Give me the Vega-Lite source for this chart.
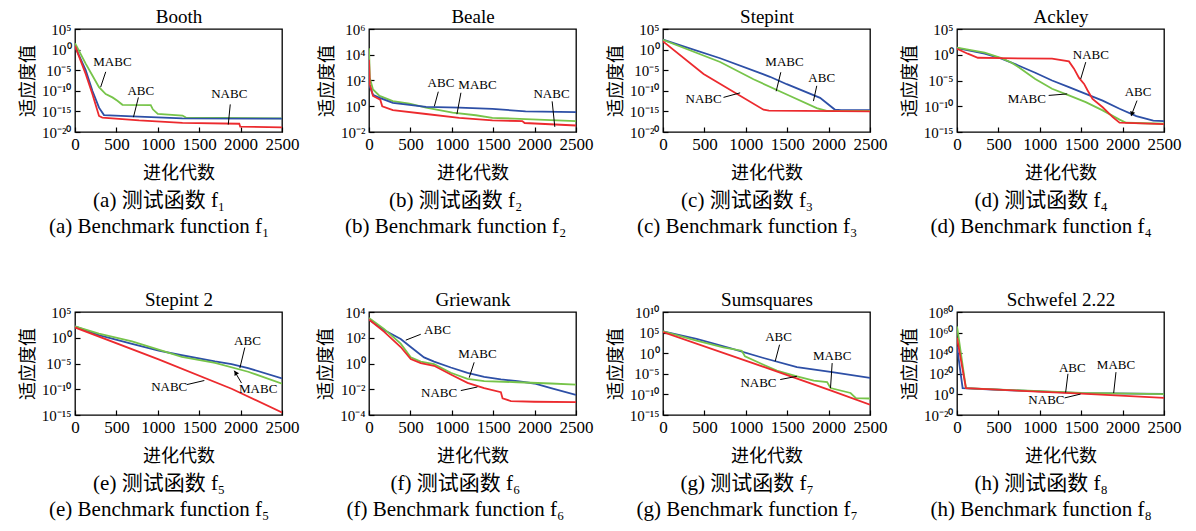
{
"$schema":"https://vega.github.io/schema/vega-lite/v6.json",
"padding":{"left":18,"top":6,"right":5,"bottom":4},
"background":"#ffffff",
"datasets":{
"L":[
{"p":"a","s":"MABC","g":0,"v":35},{"p":"a","s":"MABC","g":129,"v":4e-4},{"p":"a","s":"MABC","g":210,"v":5e-7},{"p":"a","s":"MABC","g":290,"v":7.9e-10},{"p":"a","s":"MABC","g":371,"v":1.6e-11},{"p":"a","s":"MABC","g":452,"v":2.5e-12},{"p":"a","s":"MABC","g":512,"v":4e-13},{"p":"a","s":"MABC","g":573,"v":4e-14},{"p":"a","s":"MABC","g":915,"v":3.2e-14},{"p":"a","s":"MABC","g":940,"v":3.2e-15},{"p":"a","s":"MABC","g":1000,"v":2.5e-16},{"p":"a","s":"MABC","g":1298,"v":1e-16},{"p":"a","s":"MABC","g":1339,"v":3.2e-17},{"p":"a","s":"MABC","g":2500,"v":2e-17},
{"p":"a","s":"ABC","g":0,"v":5.2},{"p":"a","s":"ABC","g":129,"v":1e-5},{"p":"a","s":"ABC","g":210,"v":1e-10},{"p":"a","s":"ABC","g":290,"v":7.9e-15},{"p":"a","s":"ABC","g":350,"v":1.26e-16},{"p":"a","s":"ABC","g":694,"v":6.3e-17},{"p":"a","s":"ABC","g":1298,"v":2e-17},{"p":"a","s":"ABC","g":2500,"v":1.8e-17},
{"p":"a","s":"NABC","g":0,"v":7.9},{"p":"a","s":"NABC","g":129,"v":1.26e-6},{"p":"a","s":"NABC","g":210,"v":1.6e-11},{"p":"a","s":"NABC","g":290,"v":7.9e-17},{"p":"a","s":"NABC","g":330,"v":3.2e-17},{"p":"a","s":"NABC","g":774,"v":6.3e-18},{"p":"a","s":"NABC","g":1298,"v":1.6e-18},{"p":"a","s":"NABC","g":1984,"v":1e-18},{"p":"a","s":"NABC","g":1995,"v":2e-19},{"p":"a","s":"NABC","g":2500,"v":1.4e-19},
{"p":"b","s":"MABC","g":0,"v":32000},{"p":"b","s":"MABC","g":10,"v":160},{"p":"b","s":"MABC","g":48,"v":20},{"p":"b","s":"MABC","g":128,"v":6.3},{"p":"b","s":"MABC","g":288,"v":2.5},{"p":"b","s":"MABC","g":489,"v":1.6},{"p":"b","s":"MABC","g":689,"v":0.79},{"p":"b","s":"MABC","g":1010,"v":0.32},{"p":"b","s":"MABC","g":1290,"v":0.2},{"p":"b","s":"MABC","g":1490,"v":0.126},{"p":"b","s":"MABC","g":1891,"v":0.1},{"p":"b","s":"MABC","g":2500,"v":0.071},
{"p":"b","s":"ABC","g":0,"v":50},{"p":"b","s":"ABC","g":48,"v":7.9},{"p":"b","s":"ABC","g":128,"v":4.5},{"p":"b","s":"ABC","g":288,"v":1.8},{"p":"b","s":"ABC","g":689,"v":0.89},{"p":"b","s":"ABC","g":1090,"v":0.79},{"p":"b","s":"ABC","g":1490,"v":0.63},{"p":"b","s":"ABC","g":1891,"v":0.4},{"p":"b","s":"ABC","g":2500,"v":0.35},
{"p":"b","s":"NABC","g":0,"v":4000},{"p":"b","s":"NABC","g":10,"v":50},{"p":"b","s":"NABC","g":48,"v":6.3},{"p":"b","s":"NABC","g":136,"v":3.2},{"p":"b","s":"NABC","g":160,"v":1},{"p":"b","s":"NABC","g":288,"v":0.5},{"p":"b","s":"NABC","g":689,"v":0.25},{"p":"b","s":"NABC","g":1090,"v":0.126},{"p":"b","s":"NABC","g":1490,"v":0.079},{"p":"b","s":"NABC","g":1851,"v":0.071},{"p":"b","s":"NABC","g":1880,"v":0.05},{"p":"b","s":"NABC","g":2500,"v":0.032},
{"p":"c","s":"ABC","g":0,"v":250},{"p":"c","s":"ABC","g":690,"v":7.9e-3},{"p":"c","s":"ABC","g":1292,"v":2.5e-7},{"p":"c","s":"ABC","g":1495,"v":4e-9},{"p":"c","s":"ABC","g":1897,"v":2e-12},{"p":"c","s":"ABC","g":2078,"v":2.5e-15},{"p":"c","s":"ABC","g":2150,"v":2e-15},{"p":"c","s":"ABC","g":2500,"v":2e-15},
{"p":"c","s":"MABC","g":0,"v":250},{"p":"c","s":"MABC","g":690,"v":1e-3},{"p":"c","s":"MABC","g":1093,"v":6.3e-8},{"p":"c","s":"MABC","g":1495,"v":1.26e-11},{"p":"c","s":"MABC","g":1857,"v":6.3e-15},{"p":"c","s":"MABC","g":1977,"v":1.26e-15},{"p":"c","s":"MABC","g":2500,"v":1.26e-15},
{"p":"c","s":"NABC","g":0,"v":100},{"p":"c","s":"NABC","g":490,"v":1.26e-6},{"p":"c","s":"NABC","g":1214,"v":2.5e-15},{"p":"c","s":"NABC","g":1280,"v":1.6e-15},{"p":"c","s":"NABC","g":2500,"v":1e-15},
{"p":"d","s":"ABC","g":0,"v":20},{"p":"d","s":"ABC","g":334,"v":1.6},{"p":"d","s":"ABC","g":537,"v":0.17},{"p":"d","s":"ABC","g":741,"v":8.3e-3},{"p":"d","s":"ABC","g":945,"v":3.2e-4},{"p":"d","s":"ABC","g":1148,"v":1e-5},{"p":"d","s":"ABC","g":1352,"v":5e-7},{"p":"d","s":"ABC","g":1555,"v":2.5e-8},{"p":"d","s":"ABC","g":1759,"v":1.26e-9},{"p":"d","s":"ABC","g":1963,"v":3.2e-11},{"p":"d","s":"ABC","g":2166,"v":1.26e-12},{"p":"d","s":"ABC","g":2370,"v":1.6e-13},{"p":"d","s":"ABC","g":2500,"v":1.26e-13},
{"p":"d","s":"MABC","g":0,"v":25},{"p":"d","s":"MABC","g":334,"v":2.5},{"p":"d","s":"MABC","g":537,"v":0.22},{"p":"d","s":"MABC","g":660,"v":0.028},{"p":"d","s":"MABC","g":741,"v":4e-3},{"p":"d","s":"MABC","g":945,"v":2e-5},{"p":"d","s":"MABC","g":1148,"v":2.5e-7},{"p":"d","s":"MABC","g":1352,"v":1.26e-8},{"p":"d","s":"MABC","g":1555,"v":6.3e-10},{"p":"d","s":"MABC","g":1759,"v":1.6e-11},{"p":"d","s":"MABC","g":1963,"v":2.5e-13},{"p":"d","s":"MABC","g":2044,"v":6.3e-14},{"p":"d","s":"MABC","g":2500,"v":4e-14},
{"p":"d","s":"NABC","g":0,"v":15},{"p":"d","s":"NABC","g":130,"v":1.6},{"p":"d","s":"NABC","g":252,"v":0.26},{"p":"d","s":"NABC","g":537,"v":0.22},{"p":"d","s":"NABC","g":1148,"v":0.17},{"p":"d","s":"NABC","g":1352,"v":0.05},{"p":"d","s":"NABC","g":1413,"v":2e-3},{"p":"d","s":"NABC","g":1474,"v":3.2e-5},{"p":"d","s":"NABC","g":1535,"v":2.2e-6},{"p":"d","s":"NABC","g":1576,"v":1.26e-7},{"p":"d","s":"NABC","g":1637,"v":2.7e-9},{"p":"d","s":"NABC","g":1759,"v":6.3e-11},{"p":"d","s":"NABC","g":1881,"v":7.9e-13},{"p":"d","s":"NABC","g":1963,"v":6.3e-14},{"p":"d","s":"NABC","g":2500,"v":3.5e-14},
{"p":"e","s":"ABC","g":0,"v":160},{"p":"e","s":"ABC","g":288,"v":3.2},{"p":"e","s":"ABC","g":689,"v":0.063},{"p":"e","s":"ABC","g":1010,"v":3.2e-3},{"p":"e","s":"ABC","g":1290,"v":4e-4},{"p":"e","s":"ABC","g":1691,"v":2.5e-5},{"p":"e","s":"ABC","g":1891,"v":7.9e-6},{"p":"e","s":"ABC","g":2091,"v":1.26e-6},{"p":"e","s":"ABC","g":2500,"v":1.26e-8},
{"p":"e","s":"MABC","g":0,"v":160},{"p":"e","s":"MABC","g":288,"v":6.3},{"p":"e","s":"MABC","g":689,"v":0.2},{"p":"e","s":"MABC","g":1010,"v":5e-3},{"p":"e","s":"MABC","g":1290,"v":2e-4},{"p":"e","s":"MABC","g":1691,"v":1.26e-5},{"p":"e","s":"MABC","g":2091,"v":2.5e-7},{"p":"e","s":"MABC","g":2500,"v":1.26e-9},
{"p":"e","s":"NABC","g":0,"v":100},{"p":"e","s":"NABC","g":1010,"v":6.3e-5},{"p":"e","s":"NABC","g":1891,"v":1.26e-10},{"p":"e","s":"NABC","g":2500,"v":3.2e-15},
{"p":"f","s":"ABC","g":0,"v":2600},{"p":"f","s":"ABC","g":181,"v":400},{"p":"f","s":"ABC","g":383,"v":79},{"p":"f","s":"ABC","g":504,"v":19},{"p":"f","s":"ABC","g":665,"v":3},{"p":"f","s":"ABC","g":786,"v":1.4},{"p":"f","s":"ABC","g":988,"v":0.49},{"p":"f","s":"ABC","g":1190,"v":0.19},{"p":"f","s":"ABC","g":1391,"v":0.093},{"p":"f","s":"ABC","g":1593,"v":0.058},{"p":"f","s":"ABC","g":1794,"v":0.042},{"p":"f","s":"ABC","g":1996,"v":0.028},{"p":"f","s":"ABC","g":2198,"v":0.012},{"p":"f","s":"ABC","g":2500,"v":3.6e-3},
{"p":"f","s":"MABC","g":0,"v":3500},{"p":"f","s":"MABC","g":181,"v":490},{"p":"f","s":"MABC","g":383,"v":35},{"p":"f","s":"MABC","g":504,"v":3},{"p":"f","s":"MABC","g":625,"v":1.4},{"p":"f","s":"MABC","g":786,"v":0.89},{"p":"f","s":"MABC","g":988,"v":0.19},{"p":"f","s":"MABC","g":1190,"v":0.065},{"p":"f","s":"MABC","g":1391,"v":0.042},{"p":"f","s":"MABC","g":1794,"v":0.035},{"p":"f","s":"MABC","g":2198,"v":0.028},{"p":"f","s":"MABC","g":2500,"v":0.023},
{"p":"f","s":"NABC","g":0,"v":2600},{"p":"f","s":"NABC","g":181,"v":300},{"p":"f","s":"NABC","g":383,"v":19},{"p":"f","s":"NABC","g":504,"v":2.2},{"p":"f","s":"NABC","g":625,"v":1.07},{"p":"f","s":"NABC","g":786,"v":0.66},{"p":"f","s":"NABC","g":988,"v":0.14},{"p":"f","s":"NABC","g":1190,"v":0.031},{"p":"f","s":"NABC","g":1391,"v":0.012},{"p":"f","s":"NABC","g":1593,"v":5.9e-3},{"p":"f","s":"NABC","g":1613,"v":1.95e-3},{"p":"f","s":"NABC","g":1714,"v":1.2e-3},{"p":"f","s":"NABC","g":1996,"v":1.07e-3},{"p":"f","s":"NABC","g":2500,"v":1e-3},
{"p":"g","s":"ABC","g":0,"v":200000},{"p":"g","s":"ABC","g":405,"v":3200},{"p":"g","s":"ABC","g":809,"v":18},{"p":"g","s":"ABC","g":1214,"v":0.068},{"p":"g","s":"ABC","g":1618,"v":4e-4},{"p":"g","s":"ABC","g":2023,"v":2.8e-5},{"p":"g","s":"ABC","g":2500,"v":1e-6},
{"p":"g","s":"MABC","g":0,"v":200000},{"p":"g","s":"MABC","g":405,"v":1100},{"p":"g","s":"MABC","g":728,"v":26},{"p":"g","s":"MABC","g":951,"v":4},{"p":"g","s":"MABC","g":990,"v":0.17},{"p":"g","s":"MABC","g":1214,"v":1.6e-3},{"p":"g","s":"MABC","g":1375,"v":5.8e-5},{"p":"g","s":"MABC","g":1618,"v":2.5e-6},{"p":"g","s":"MABC","g":1820,"v":2.1e-7},{"p":"g","s":"MABC","g":1982,"v":1e-7},{"p":"g","s":"MABC","g":2023,"v":3.5e-9},{"p":"g","s":"MABC","g":2265,"v":2.2e-10},{"p":"g","s":"MABC","g":2330,"v":1.26e-11},{"p":"g","s":"MABC","g":2500,"v":1e-11},
{"p":"g","s":"NABC","g":0,"v":140000},{"p":"g","s":"NABC","g":971,"v":0.025},{"p":"g","s":"NABC","g":2023,"v":1e-9},{"p":"g","s":"NABC","g":2500,"v":3.2e-13},
{"p":"h","s":"ABC","g":0,"v":3.2e46},{"p":"h","s":"ABC","g":68,"v":1e6},{"p":"h","s":"ABC","g":500,"v":32000},{"p":"h","s":"ABC","g":1500,"v":18},{"p":"h","s":"ABC","g":2500,"v":4},
{"p":"h","s":"MABC","g":0,"v":1e66},{"p":"h","s":"MABC","g":108,"v":1e6},{"p":"h","s":"MABC","g":1500,"v":32},{"p":"h","s":"MABC","g":2500,"v":2},
{"p":"h","s":"NABC","g":0,"v":1e55},{"p":"h","s":"NABC","g":108,"v":1e6},{"p":"h","s":"NABC","g":1500,"v":6.3},{"p":"h","s":"NABC","g":2500,"v":4e-4}
],
"T":[
{"p":"a","t":"MABC","g":452,"v":1e-3},{"p":"a","t":"ABC","g":794,"v":7.9e-11},{"p":"a","t":"NABC","g":1863,"v":1.6e-11},
{"p":"b","t":"ABC","g":869,"v":69},{"p":"b","t":"MABC","g":1310,"v":46},{"p":"b","t":"NABC","g":2204,"v":9.3},
{"p":"c","t":"MABC","g":1467,"v":1.26e-3},{"p":"c","t":"ABC","g":1917,"v":1.26e-7},{"p":"c","t":"NABC","g":490,"v":7.9e-13},
{"p":"d","t":"NABC","g":1616,"v":1},{"p":"d","t":"ABC","g":2186,"v":5e-8},{"p":"d","t":"MABC","g":843,"v":2.5e-9},
{"p":"e","t":"ABC","g":2083,"v":0.19},{"p":"e","t":"MABC","g":2212,"v":1e-10},{"p":"e","t":"NABC","g":1138,"v":3.2e-10},
{"p":"f","t":"ABC","g":827,"v":410},{"p":"f","t":"MABC","g":1310,"v":5.6},{"p":"f","t":"NABC","g":847,"v":5.5e-3},
{"p":"g","t":"ABC","g":1396,"v":7100},{"p":"g","t":"MABC","g":2043,"v":0.17},{"p":"g","t":"NABC","g":1153,"v":5.9e-8},
{"p":"h","t":"ABC","g":1392,"v":4e25},{"p":"h","t":"MABC","g":1920,"v":5.6e28},{"p":"h","t":"NABC","g":1080,"v":2.5e-6}
],
"R":[
{"p":"a","g":371,"v":4e-6,"g2":310,"v2":7.9e-10},{"p":"a","g":766,"v":2.5e-12,"g2":706,"v2":4e-17},{"p":"a","g":1875,"v":5e-14,"g2":1851,"v2":6.3e-19},
{"p":"b","g":837,"v":13.5,"g2":789,"v2":0.98},{"p":"b","g":1110,"v":11.2,"g2":1062,"v2":0.24},{"p":"b","g":2212,"v":2.4,"g2":2244,"v2":0.025},
{"p":"c","g":1423,"v":3.2e-6,"g2":1367,"v2":7.9e-11},{"p":"c","g":1857,"v":1.6e-9,"g2":1817,"v2":3.2e-13},{"p":"c","g":731,"v":2.5e-12,"g2":932,"v2":3.2e-11},
{"p":"d","g":1555,"v":0.037,"g2":1494,"v2":2e-5},{"p":"d","g":2174,"v":1.26e-9,"g2":2105,"v2":1.6e-12},{"p":"d","g":1107,"v":1.26e-8,"g2":1331,"v2":2.5e-8},
{"p":"e","g":2051,"v":0.0126,"g2":1991,"v2":1.26e-6},{"p":"e","g":2011,"v":1.6e-9,"g2":1923,"v2":4e-7},{"p":"e","g":1350,"v":7.9e-10,"g2":1562,"v2":5e-9},
{"p":"f","g":625,"v":186,"g2":444,"v2":65},{"p":"f","g":1270,"v":1.23,"g2":1210,"v2":0.079},{"p":"f","g":1109,"v":7.9e-3,"g2":1310,"v2":0.015},
{"p":"g","g":1408,"v":117,"g2":1355,"v2":0.011},{"p":"g","g":2043,"v":4e-3,"g2":2023,"v2":3.5e-9},{"p":"g","g":1416,"v":4e-7,"g2":1618,"v2":2.5e-6},
{"p":"h","g":1340,"v":1e20,"g2":1312,"v2":79},{"p":"h","g":1920,"v":4e21,"g2":1892,"v2":18},{"p":"h","g":1300,"v":4e-4,"g2":1492,"v2":2}
],
"A":[
{"p":"d","g":2112,"v":3e-12},
{"p":"e","g":1940,"v":1.6e-7}
]
},
"bounds":"flush",
"columns":4,
"spacing":{"column":87,"row":180},
"concat":[
{"width":207,"height":103,"title":{"text":["(a) 测试函数 f₁","(a) Benchmark function f₁"]},
"layer":[
{"data":{"name":"L"},"transform":[{"filter":"datum.p==='a'"}],"mark":{"type":"line","strokeWidth":1.8,"clip":true},
"encoding":{"x":{"field":"g","type":"quantitative","scale":{"domain":[0,2500],"nice":false,"zero":false},"axis":{"orient":"bottom","values":[0,500,1000,1500,2000,2500],"format":"d","title":"进化代数"}},
"y":{"field":"v","type":"quantitative","scale":{"type":"log","domain":[1e-20,1e5],"nice":false},"axis":{"orient":"left","values":[1e5,1,1e-5,1e-10,1e-15,1e-20],"title":"适应度值","labelExpr":"'10' + replace(replace(replace(replace(replace(replace(replace(replace(''+round(log(datum.value)/LN10),'-','⁻'),'0','⁰'),'1','¹'),'2','²'),'4','⁴'),'5','⁵'),'6','⁶'),'8','⁸')"}},
"color":{"field":"s","type":"nominal","scale":{"domain":["ABC","MABC","NABC"],"range":["#2d4fa6","#77c44a","#ec2a2e"]},"legend":null}}},
{"data":{"name":"R"},"transform":[{"filter":"datum.p==='a'"}],"mark":{"type":"rule","color":"#000","strokeWidth":1},
"encoding":{"x":{"field":"g","type":"quantitative","axis":{"orient":"top","title":"Booth","labels":false,"ticks":false,"domain":false,"offset":0,"titleFont":"Liberation Serif","titleFontSize":19,"titlePadding":3}},"x2":{"field":"g2"},"y":{"field":"v","type":"quantitative"},"y2":{"field":"v2"}}},
{"data":{"name":"T"},"transform":[{"filter":"datum.p==='a'"}],"mark":{"type":"text","fontSize":13,"color":"#000","font":"Liberation Serif"},
"encoding":{"x":{"field":"g","type":"quantitative","axis":null},"y":{"field":"v","type":"quantitative"},"text":{"field":"t"}}}
]},
{"width":207,"height":103,"title":{"text":["(b) 测试函数 f₂","(b) Benchmark function f₂"]},
"layer":[
{"data":{"name":"L"},"transform":[{"filter":"datum.p==='b'"}],"mark":{"type":"line","strokeWidth":1.8,"clip":true},
"encoding":{"x":{"field":"g","type":"quantitative","scale":{"domain":[0,2500],"nice":false,"zero":false},"axis":{"orient":"bottom","values":[0,500,1000,1500,2000,2500],"format":"d","title":"进化代数"}},
"y":{"field":"v","type":"quantitative","scale":{"type":"log","domain":[1e-2,1e6],"nice":false},"axis":{"orient":"left","values":[1e6,1e4,100,1,0.01],"title":"适应度值","labelExpr":"'10' + replace(replace(replace(replace(replace(replace(replace(replace(''+round(log(datum.value)/LN10),'-','⁻'),'0','⁰'),'1','¹'),'2','²'),'4','⁴'),'5','⁵'),'6','⁶'),'8','⁸')"}},
"color":{"field":"s","type":"nominal","scale":{"domain":["ABC","MABC","NABC"],"range":["#2d4fa6","#77c44a","#ec2a2e"]},"legend":null}}},
{"data":{"name":"R"},"transform":[{"filter":"datum.p==='b'"}],"mark":{"type":"rule","color":"#000","strokeWidth":1},
"encoding":{"x":{"field":"g","type":"quantitative","axis":{"orient":"top","title":"Beale","labels":false,"ticks":false,"domain":false,"offset":0,"titleFont":"Liberation Serif","titleFontSize":19,"titlePadding":3}},"x2":{"field":"g2"},"y":{"field":"v","type":"quantitative"},"y2":{"field":"v2"}}},
{"data":{"name":"T"},"transform":[{"filter":"datum.p==='b'"}],"mark":{"type":"text","fontSize":13,"color":"#000","font":"Liberation Serif"},
"encoding":{"x":{"field":"g","type":"quantitative","axis":null},"y":{"field":"v","type":"quantitative"},"text":{"field":"t"}}}
]},
{"width":207,"height":103,"title":{"text":["(c) 测试函数 f₃","(c) Benchmark function f₃"]},
"layer":[
{"data":{"name":"L"},"transform":[{"filter":"datum.p==='c'"}],"mark":{"type":"line","strokeWidth":1.8,"clip":true},
"encoding":{"x":{"field":"g","type":"quantitative","scale":{"domain":[0,2500],"nice":false,"zero":false},"axis":{"orient":"bottom","values":[0,500,1000,1500,2000,2500],"format":"d","title":"进化代数"}},
"y":{"field":"v","type":"quantitative","scale":{"type":"log","domain":[1e-20,1e5],"nice":false},"axis":{"orient":"left","values":[1e5,1,1e-5,1e-10,1e-15,1e-20],"title":"适应度值","labelExpr":"'10' + replace(replace(replace(replace(replace(replace(replace(replace(''+round(log(datum.value)/LN10),'-','⁻'),'0','⁰'),'1','¹'),'2','²'),'4','⁴'),'5','⁵'),'6','⁶'),'8','⁸')"}},
"color":{"field":"s","type":"nominal","scale":{"domain":["ABC","MABC","NABC"],"range":["#2d4fa6","#77c44a","#ec2a2e"]},"legend":null}}},
{"data":{"name":"R"},"transform":[{"filter":"datum.p==='c'"}],"mark":{"type":"rule","color":"#000","strokeWidth":1},
"encoding":{"x":{"field":"g","type":"quantitative","axis":{"orient":"top","title":"Stepint","labels":false,"ticks":false,"domain":false,"offset":0,"titleFont":"Liberation Serif","titleFontSize":19,"titlePadding":3}},"x2":{"field":"g2"},"y":{"field":"v","type":"quantitative"},"y2":{"field":"v2"}}},
{"data":{"name":"T"},"transform":[{"filter":"datum.p==='c'"}],"mark":{"type":"text","fontSize":13,"color":"#000","font":"Liberation Serif"},
"encoding":{"x":{"field":"g","type":"quantitative","axis":null},"y":{"field":"v","type":"quantitative"},"text":{"field":"t"}}}
]},
{"width":207,"height":103,"title":{"text":["(d) 测试函数 f₄","(d) Benchmark function f₄"]},
"layer":[
{"data":{"name":"L"},"transform":[{"filter":"datum.p==='d'"}],"mark":{"type":"line","strokeWidth":1.8,"clip":true},
"encoding":{"x":{"field":"g","type":"quantitative","scale":{"domain":[0,2500],"nice":false,"zero":false},"axis":{"orient":"bottom","values":[0,500,1000,1500,2000,2500],"format":"d","title":"进化代数"}},
"y":{"field":"v","type":"quantitative","scale":{"type":"log","domain":[1e-15,1e5],"nice":false},"axis":{"orient":"left","values":[1e5,1,1e-5,1e-10,1e-15],"title":"适应度值","labelExpr":"'10' + replace(replace(replace(replace(replace(replace(replace(replace(''+round(log(datum.value)/LN10),'-','⁻'),'0','⁰'),'1','¹'),'2','²'),'4','⁴'),'5','⁵'),'6','⁶'),'8','⁸')"}},
"color":{"field":"s","type":"nominal","scale":{"domain":["ABC","MABC","NABC"],"range":["#2d4fa6","#77c44a","#ec2a2e"]},"legend":null}}},
{"data":{"name":"R"},"transform":[{"filter":"datum.p==='d'"}],"mark":{"type":"rule","color":"#000","strokeWidth":1},
"encoding":{"x":{"field":"g","type":"quantitative","axis":{"orient":"top","title":"Ackley","labels":false,"ticks":false,"domain":false,"offset":0,"titleFont":"Liberation Serif","titleFontSize":19,"titlePadding":3}},"x2":{"field":"g2"},"y":{"field":"v","type":"quantitative"},"y2":{"field":"v2"}}},
{"data":{"name":"A"},"transform":[{"filter":"datum.p==='d'"}],"mark":{"type":"point","shape":"triangle-up","angle":200,"filled":true,"color":"#000","size":28,"opacity":1},
"encoding":{"x":{"field":"g","type":"quantitative","axis":null},"y":{"field":"v","type":"quantitative"}}},
{"data":{"name":"T"},"transform":[{"filter":"datum.p==='d'"}],"mark":{"type":"text","fontSize":13,"color":"#000","font":"Liberation Serif"},
"encoding":{"x":{"field":"g","type":"quantitative","axis":null},"y":{"field":"v","type":"quantitative"},"text":{"field":"t"}}}
]},
{"width":207,"height":103,"title":{"text":["(e) 测试函数 f₅","(e) Benchmark function f₅"]},
"layer":[
{"data":{"name":"L"},"transform":[{"filter":"datum.p==='e'"}],"mark":{"type":"line","strokeWidth":1.8,"clip":true},
"encoding":{"x":{"field":"g","type":"quantitative","scale":{"domain":[0,2500],"nice":false,"zero":false},"axis":{"orient":"bottom","values":[0,500,1000,1500,2000,2500],"format":"d","title":"进化代数"}},
"y":{"field":"v","type":"quantitative","scale":{"type":"log","domain":[1e-15,1e5],"nice":false},"axis":{"orient":"left","values":[1e5,1,1e-5,1e-10,1e-15],"title":"适应度值","labelExpr":"'10' + replace(replace(replace(replace(replace(replace(replace(replace(''+round(log(datum.value)/LN10),'-','⁻'),'0','⁰'),'1','¹'),'2','²'),'4','⁴'),'5','⁵'),'6','⁶'),'8','⁸')"}},
"color":{"field":"s","type":"nominal","scale":{"domain":["ABC","MABC","NABC"],"range":["#2d4fa6","#77c44a","#ec2a2e"]},"legend":null}}},
{"data":{"name":"R"},"transform":[{"filter":"datum.p==='e'"}],"mark":{"type":"rule","color":"#000","strokeWidth":1},
"encoding":{"x":{"field":"g","type":"quantitative","axis":{"orient":"top","title":"Stepint 2","labels":false,"ticks":false,"domain":false,"offset":0,"titleFont":"Liberation Serif","titleFontSize":19,"titlePadding":3}},"x2":{"field":"g2"},"y":{"field":"v","type":"quantitative"},"y2":{"field":"v2"}}},
{"data":{"name":"A"},"transform":[{"filter":"datum.p==='e'"}],"mark":{"type":"point","shape":"triangle-up","angle":329,"filled":true,"color":"#000","size":28,"opacity":1},
"encoding":{"x":{"field":"g","type":"quantitative","axis":null},"y":{"field":"v","type":"quantitative"}}},
{"data":{"name":"T"},"transform":[{"filter":"datum.p==='e'"}],"mark":{"type":"text","fontSize":13,"color":"#000","font":"Liberation Serif"},
"encoding":{"x":{"field":"g","type":"quantitative","axis":null},"y":{"field":"v","type":"quantitative"},"text":{"field":"t"}}}
]},
{"width":207,"height":103,"title":{"text":["(f) 测试函数 f₆","(f) Benchmark function f₆"]},
"layer":[
{"data":{"name":"L"},"transform":[{"filter":"datum.p==='f'"}],"mark":{"type":"line","strokeWidth":1.8,"clip":true},
"encoding":{"x":{"field":"g","type":"quantitative","scale":{"domain":[0,2500],"nice":false,"zero":false},"axis":{"orient":"bottom","values":[0,500,1000,1500,2000,2500],"format":"d","title":"进化代数"}},
"y":{"field":"v","type":"quantitative","scale":{"type":"log","domain":[1e-4,1e4],"nice":false},"axis":{"orient":"left","values":[1e4,100,1,0.01,1e-4],"title":"适应度值","labelExpr":"'10' + replace(replace(replace(replace(replace(replace(replace(replace(''+round(log(datum.value)/LN10),'-','⁻'),'0','⁰'),'1','¹'),'2','²'),'4','⁴'),'5','⁵'),'6','⁶'),'8','⁸')"}},
"color":{"field":"s","type":"nominal","scale":{"domain":["ABC","MABC","NABC"],"range":["#2d4fa6","#77c44a","#ec2a2e"]},"legend":null}}},
{"data":{"name":"R"},"transform":[{"filter":"datum.p==='f'"}],"mark":{"type":"rule","color":"#000","strokeWidth":1},
"encoding":{"x":{"field":"g","type":"quantitative","axis":{"orient":"top","title":"Griewank","labels":false,"ticks":false,"domain":false,"offset":0,"titleFont":"Liberation Serif","titleFontSize":19,"titlePadding":3}},"x2":{"field":"g2"},"y":{"field":"v","type":"quantitative"},"y2":{"field":"v2"}}},
{"data":{"name":"T"},"transform":[{"filter":"datum.p==='f'"}],"mark":{"type":"text","fontSize":13,"color":"#000","font":"Liberation Serif"},
"encoding":{"x":{"field":"g","type":"quantitative","axis":null},"y":{"field":"v","type":"quantitative"},"text":{"field":"t"}}}
]},
{"width":207,"height":103,"title":{"text":["(g) 测试函数 f₇","(g) Benchmark function f₇"]},
"layer":[
{"data":{"name":"L"},"transform":[{"filter":"datum.p==='g'"}],"mark":{"type":"line","strokeWidth":1.8,"clip":true},
"encoding":{"x":{"field":"g","type":"quantitative","scale":{"domain":[0,2500],"nice":false,"zero":false},"axis":{"orient":"bottom","values":[0,500,1000,1500,2000,2500],"format":"d","title":"进化代数"}},
"y":{"field":"v","type":"quantitative","scale":{"type":"log","domain":[1e-15,1e10],"nice":false},"axis":{"orient":"left","values":[1e10,1e5,1,1e-5,1e-10,1e-15],"title":"适应度值","labelExpr":"'10' + replace(replace(replace(replace(replace(replace(replace(replace(''+round(log(datum.value)/LN10),'-','⁻'),'0','⁰'),'1','¹'),'2','²'),'4','⁴'),'5','⁵'),'6','⁶'),'8','⁸')"}},
"color":{"field":"s","type":"nominal","scale":{"domain":["ABC","MABC","NABC"],"range":["#2d4fa6","#77c44a","#ec2a2e"]},"legend":null}}},
{"data":{"name":"R"},"transform":[{"filter":"datum.p==='g'"}],"mark":{"type":"rule","color":"#000","strokeWidth":1},
"encoding":{"x":{"field":"g","type":"quantitative","axis":{"orient":"top","title":"Sumsquares","labels":false,"ticks":false,"domain":false,"offset":0,"titleFont":"Liberation Serif","titleFontSize":19,"titlePadding":3}},"x2":{"field":"g2"},"y":{"field":"v","type":"quantitative"},"y2":{"field":"v2"}}},
{"data":{"name":"T"},"transform":[{"filter":"datum.p==='g'"}],"mark":{"type":"text","fontSize":13,"color":"#000","font":"Liberation Serif"},
"encoding":{"x":{"field":"g","type":"quantitative","axis":null},"y":{"field":"v","type":"quantitative"},"text":{"field":"t"}}}
]},
{"width":207,"height":103,"title":{"text":["(h) 测试函数 f₈","(h) Benchmark function f₈"]},
"layer":[
{"data":{"name":"L"},"transform":[{"filter":"datum.p==='h'"}],"mark":{"type":"line","strokeWidth":1.8,"clip":true},
"encoding":{"x":{"field":"g","type":"quantitative","scale":{"domain":[0,2500],"nice":false,"zero":false},"axis":{"orient":"bottom","values":[0,500,1000,1500,2000,2500],"format":"d","title":"进化代数"}},
"y":{"field":"v","type":"quantitative","scale":{"type":"log","domain":[1e-20,1e80],"nice":false},"axis":{"orient":"left","values":[1e80,1e60,1e40,1e20,1,1e-20],"title":"适应度值","labelExpr":"'10' + replace(replace(replace(replace(replace(replace(replace(replace(''+round(log(datum.value)/LN10),'-','⁻'),'0','⁰'),'1','¹'),'2','²'),'4','⁴'),'5','⁵'),'6','⁶'),'8','⁸')"}},
"color":{"field":"s","type":"nominal","scale":{"domain":["ABC","MABC","NABC"],"range":["#2d4fa6","#77c44a","#ec2a2e"]},"legend":null}}},
{"data":{"name":"R"},"transform":[{"filter":"datum.p==='h'"}],"mark":{"type":"rule","color":"#000","strokeWidth":1},
"encoding":{"x":{"field":"g","type":"quantitative","axis":{"orient":"top","title":"Schwefel 2.22","labels":false,"ticks":false,"domain":false,"offset":0,"titleFont":"Liberation Serif","titleFontSize":19,"titlePadding":3}},"x2":{"field":"g2"},"y":{"field":"v","type":"quantitative"},"y2":{"field":"v2"}}},
{"data":{"name":"T"},"transform":[{"filter":"datum.p==='h'"}],"mark":{"type":"text","fontSize":13,"color":"#000","font":"Liberation Serif"},
"encoding":{"x":{"field":"g","type":"quantitative","axis":null},"y":{"field":"v","type":"quantitative"},"text":{"field":"t"}}}
]}
],
"config":{
"font":"Liberation Serif",
"view":{"stroke":"#000","strokeWidth":1.3},
"axis":{"grid":false,"domain":false,"tickColor":"#000","tickSize":5,"offset":-5,"tickWidth":1.2,"labelColor":"#000","labelFont":"Liberation Serif","labelPadding":4,"titleFont":"Noto Sans CJK SC","titleFontWeight":"normal","titleColor":"#000","labelOverlap":false,"labelFlush":false},
"axisX":{"labelFontSize":17,"titleFontSize":18,"titlePadding":12},
"axisY":{"labelFontSize":15,"titleFontSize":18,"titlePadding":4},
"title":{"font":"Liberation Serif, Noto Sans CJK SC","fontSize":21,"fontWeight":"normal","color":"#000","orient":"bottom","anchor":"middle","frame":"bounds","lineHeight":26,"offset":8}
}
}
